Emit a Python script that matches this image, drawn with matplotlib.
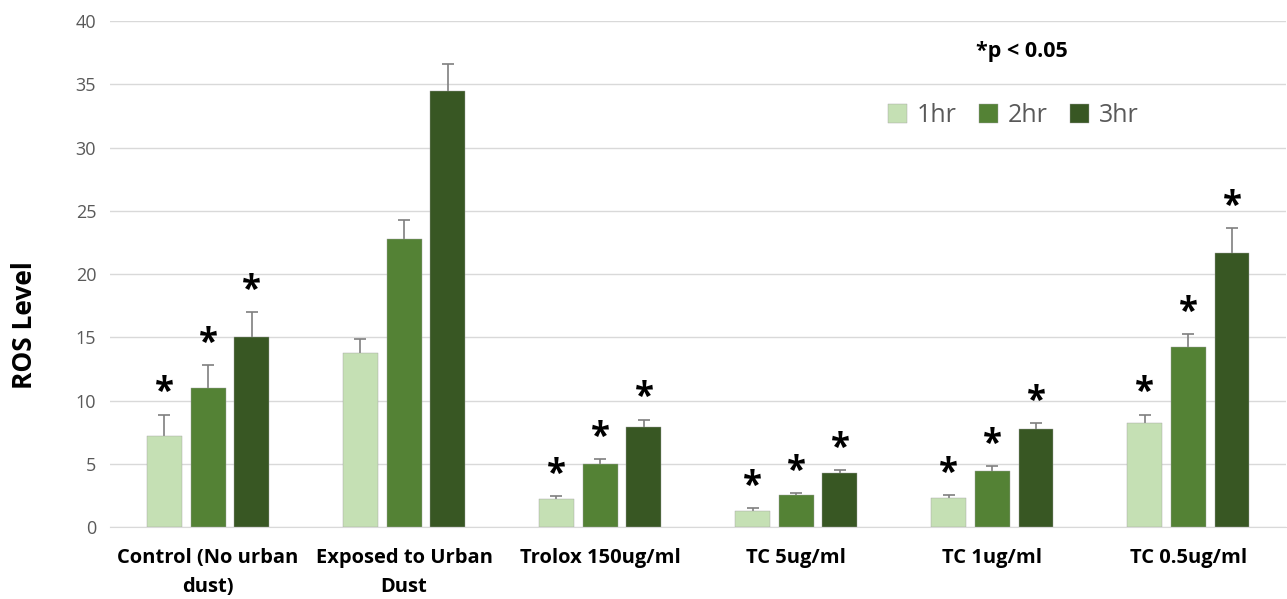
import matplotlib.pyplot as plt
import numpy as np

categories = ["Control (No urban\ndust)", "Exposed to Urban\nDust", "Trolox 150ug/ml",
              "TC 5ug/ml", "TC 1ug/ml", "TC 0.5ug/ml"]
series = ["1hr", "2hr", "3hr"]
vals_1hr = [7.2, 13.75, 2.2, 1.3, 2.3, 8.2]
vals_2hr = [11.0, 22.8, 5.0, 2.5, 4.4, 14.2]
vals_3hr = [15.0, 34.5, 7.9, 4.25, 7.75, 21.7]
err_1hr = [1.7, 1.15, 0.25, 0.2, 0.25, 0.7]
err_2hr = [1.8, 1.5, 0.4, 0.2, 0.4, 1.05]
err_3hr = [2.0, 2.1, 0.6, 0.25, 0.45, 1.9]
# which bars get a significance star
sig_1hr = [True, False, True, True, True, True]
sig_2hr = [True, False, True, True, True, True]
sig_3hr = [True, False, True, True, True, True]

colors = ["#C5E0B4", "#548235", "#385723"]

plt.rcParams['font.family'] = ['Open Sans', 'DejaVu Sans']

fig = plt.figure(figsize=(12.87, 5.99), dpi=100)
ax = fig.add_axes([0.0855, 0.12, 0.914, 0.845])

x = np.arange(len(categories))
step = 0.223
width = 0.178
all_vals = [vals_1hr, vals_2hr, vals_3hr]
all_err = [err_1hr, err_2hr, err_3hr]
all_sig = [sig_1hr, sig_2hr, sig_3hr]

for i in range(3):
    pos = x + (i - 1) * step
    ax.bar(pos, all_vals[i], width, color=colors[i], label=series[i], zorder=3,
           edgecolor="#a0a0a0", linewidth=0.3)
    _, caps, _ = ax.errorbar(pos, all_vals[i], yerr=[np.zeros(len(x)), all_err[i]],
                             fmt="none", ecolor="#7f7f7f", elinewidth=1.2, capsize=4,
                             capthick=1.2, zorder=2)
    caps[0].set_visible(False)
    for p, v, e, s in zip(pos, all_vals[i], all_err[i], all_sig[i]):
        if s:
            ax.text(p, v + e + 0.25, "*", ha="center", va="bottom", fontsize=25,
                    fontweight="bold", color="black")

ax.set_xlim(-0.5, len(categories) - 0.5)
ax.set_ylim(0, 40)
ax.set_yticks(range(0, 41, 5))
ax.yaxis.grid(True, color="#d9d9d9", linewidth=1, zorder=0)
ax.set_axisbelow(True)
for sp in ["top", "right", "left"]:
    ax.spines[sp].set_visible(False)
ax.spines["bottom"].set_color("#d9d9d9")
ax.tick_params(axis="both", length=0)
ax.tick_params(axis="y", labelsize=13, labelcolor="#595959", pad=10)
ax.tick_params(axis="x", pad=15)
ax.set_xticks(x)
ax.set_xticklabels(categories, fontsize=14.5, fontweight="bold", linespacing=1.6)
ax.set_ylabel("ROS Level", fontsize=19, fontweight="bold")
ax.yaxis.set_label_coords(-0.061, 0.40)

ax.text(0.775, 0.939, "*p < 0.05", transform=ax.transAxes, ha="center", va="center",
        fontsize=15.5, fontweight="bold")
leg = ax.legend(loc="center", bbox_to_anchor=(0.768, 0.813), ncol=3, frameon=False,
                fontsize=18, handlelength=0.75, handleheight=0.75, columnspacing=0.9,
                handletextpad=0.4)
for t in leg.get_texts():
    t.set_color("#595959")

fig.savefig("out.png", dpi=100)
